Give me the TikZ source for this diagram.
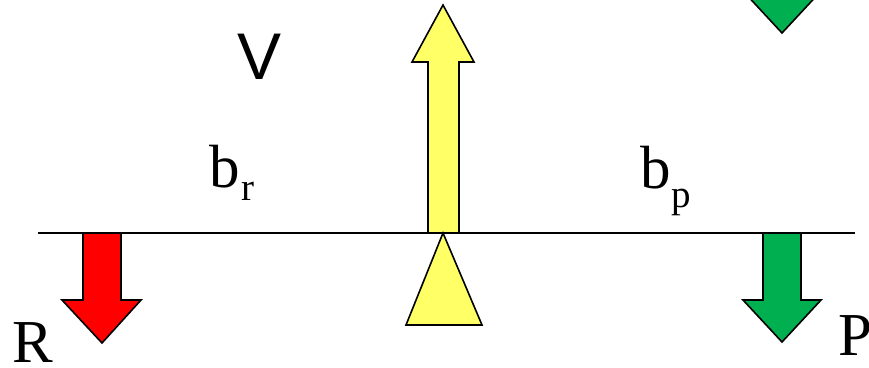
\documentclass[tikz,border=0pt]{standalone}
\usepackage{fontspec}
\setmainfont{Liberation Serif}
\newfontfamily\arialfont{Liberation Sans}
\tikzset{
  lbl/.style={inner sep=0pt, anchor=base west, font=\fontsize{61}{63}\selectfont},
  sublbl/.style={inner sep=0pt, anchor=base west, font=\fontsize{39}{41}\selectfont},
  arr/.style={draw=black, line width=1.6pt, line join=miter},
  beam/.style={draw=black, line width=2.4pt},
}
\definecolor{fred}{HTML}{FF0000}
\definecolor{fgreen}{HTML}{00B050}
\definecolor{fyellow}{HTML}{FFFF66}
\begin{document}
\begin{tikzpicture}[x=1pt,y=-1pt]
\useasboundingbox (0,0) rectangle (869,367);
\begin{scope}
\clip (0,0) rectangle (869,367);
% beam
\draw[beam] (38,233) coordinate (bl) -- (855,233) coordinate (br);
% red arrow (R)
\filldraw[arr, fill=fred] (83,233) -- (121,233) -- (121,300) -- (141,300) -- (102,343) -- (62,300) -- (83,300) -- cycle;
% green arrow (P)
\filldraw[arr, fill=fgreen] (763,233) -- (801,233) -- (801,300) -- (821,300) -- (782,342) -- (743,300) -- (763,300) -- cycle;
% green arrow top (cut off)
\filldraw[arr, fill=fgreen] (763,-80) -- (801,-80) -- (801,-9) -- (821,-9) -- (782,33) -- (743,-9) -- (763,-9) -- cycle;
% yellow arrow (V)
\filldraw[arr, fill=fyellow] (428,233) -- (428,62) -- (412,62) -- (443,5) -- (474,62) -- (459,62) -- (459,233) -- cycle;
% support triangle
\filldraw[arr, fill=fyellow] (443,233) -- (482,325) -- (406,325) -- cycle;
\end{scope}
% labels
\node[lbl] (R) at (12,362) {R};
\node[lbl] (P) at (838,355) {P};
\node[lbl, font=\arialfont\fontsize{66}{68}\selectfont] (V) at (237,79) {V};
\node[lbl] (br1) at (209,187) {b};
\node[sublbl] (br2) at (241,200) {r};
\node[lbl] (bp1) at (640,188) {b};
\node[sublbl] (bp2) at (671,207) {p};
\end{tikzpicture}
\end{document}
